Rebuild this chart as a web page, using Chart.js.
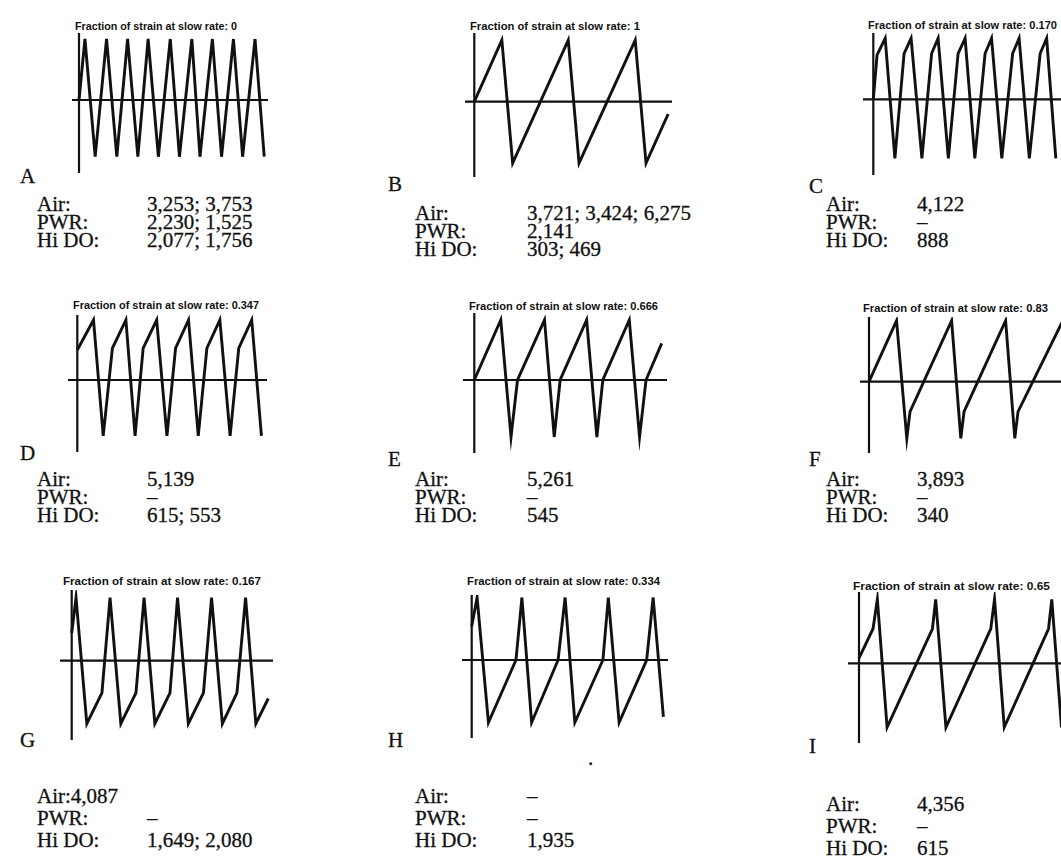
<!DOCTYPE html>
<html><head><meta charset="utf-8">
<script src="https://cdn.jsdelivr.net/npm/chart.js@4/dist/chart.umd.min.js"></script>
<style>
html,body{margin:0;padding:0;background:#fff;overflow:hidden;width:1061px;height:862px;}
#root{position:relative;width:1061px;height:862px;overflow:hidden;}
canvas{position:absolute;}
.t{position:absolute;white-space:nowrap;color:#111;}
.title{font:bold 10px "Liberation Sans",Arial,sans-serif;line-height:10px;transform-origin:0 0;}
.lab{font:21px "Liberation Serif","Times New Roman",serif;line-height:21px;-webkit-text-stroke:0.3px #111;}
</style></head><body><div id="root"></div>
<script>
// ---- data ----
const panelLetters = ['A','B','C','D','E','F','G','H','I'];
const slowFractions = ['0','1','0.170','0.347','0.666','0.83','0.167','0.334','0.65'];
const airLife  = ['3,253; 3,753','3,721; 3,424; 6,275','4,122','5,139','5,261','3,893','4,087','\u2013','4,356'];
const pwrLife  = ['2,230; 1,525','2,141','\u2013','\u2013','\u2013','\u2013','\u2013','\u2013','\u2013'];
const hiDoLife = ['2,077; 1,756','303; 469','888','615; 553','545','340','1,649; 2,080','1,935','615'];

// waveforms: time (arbitrary units) and normalised strain
const timeA = [0,1.1,3.0,5.1,7.0,9.0,10.9,12.8,14.7,16.9,18.6,20.9,22.4,24.7,26.4,28.6,30.3,32.6,34.3];
const strainA = [0,1,-0.93,1,-0.93,1,-0.93,1,-0.93,1,-0.93,1,-0.93,1,-0.93,1,-0.93,1,-0.93];
const timeB = [0,5.1,7.1,17.4,19.4,29.8,31.8,35.9];
const strainB = [0,1,-1,1,-1,1,-1,-0.2];
const timeC = [0,0.7,2.2,4.0,5.7,7.0,9.0,10.8,12.0,13.9,15.7,17.0,18.8,20.7,21.9,23.8,25.8,27.0,28.9,30.9,32.1,33.8];
const strainC = [0,0.73,1,-0.97,0.75,1,-0.97,0.75,1,-0.97,0.75,1,-0.97,0.75,1,-0.97,0.75,1,-0.97,0.75,1,-0.97];
const timeD = [0,3.0,4.8,6.5,9.0,10.7,12.2,14.7,16.6,18.2,20.6,22.4,24.0,26.4,28.3,29.9,32.3,34.1];
const strainD = [0.5,1,-0.93,0.53,1,-0.93,0.53,1,-0.93,0.53,1,-0.93,0.53,1,-0.93,0.53,1,-0.93];
const timeE = [0,4.9,6.8,8.0,13.0,14.8,15.9,20.8,22.7,23.8,28.7,30.6,31.8,34.7];
const strainE = [0,1,-0.95,0,1,-0.95,0,1,-0.95,0,1,-0.95,0,0.61];
const timeF = [0,5.1,7.0,7.6,15.3,17.0,17.6,25.3,27.0,27.6,35.9];
const strainF = [0,1,-0.93,-0.49,1,-0.93,-0.49,1,-0.93,-0.49,1];
const timeG = [0,0.8,2.8,5.6,7.1,9.1,11.9,13.4,15.4,18.2,19.6,21.6,24.4,25.9,27.9,30.6,32.2,34.1,36.4];
const strainG = [0.44,1,-1,-0.51,1,-1,-0.51,1,-1,-0.51,1,-1,-0.51,1,-1,-0.51,1,-1,-0.6];
const timeH = [0,1.0,3.1,8.2,9.3,11.1,16.0,17.3,19.1,24.3,25.3,27.3,32.4,33.6,35.5];
const strainH = [0.54,1,-1,0,1,-1,0,1,-1,0,1,-1,0,1,-0.91];
const timeI = [0,2.6,3.4,5.2,13.6,14.2,16.1,24.4,25.1,26.9,35.1,35.7,37.5];
const strainI = [0.08,0.54,1,-1,0.54,1,-1,0.54,1,-1,0.54,1,-1];

const times = [timeA,timeB,timeC,timeD,timeE,timeF,timeG,timeH,timeI];
const strains = [strainA,strainB,strainC,strainD,strainE,strainF,strainG,strainH,strainI];

// ---- layout (pixels) ----
const PPX = 5.4;
const plotBox = [
  {ax:79,   zy:100,   ppy:61,   top:33,  bottom:173, left:72,  right:268},
  {ax:474.3,zy:101.7, ppy:61.5, top:33,  bottom:177, left:465, right:672},
  {ax:873.3,zy:99.3,  ppy:61,   top:33,  bottom:175, left:863, right:1075},
  {ax:77.3, zy:380,   ppy:60,   top:315, bottom:452, left:68,  right:267},
  {ax:474.3,zy:380,   ppy:60,   top:313, bottom:453, left:463, right:667},
  {ax:869,  zy:381.7, ppy:61,   top:317, bottom:453, left:860, right:1075},
  {ax:71.7, zy:660.7, ppy:63,   top:590, bottom:740, left:60,  right:273},
  {ax:471.7,zy:660,   ppy:62.5, top:595, bottom:738, left:462, right:668},
  {ax:859,  zy:663.3, ppy:64,   top:592, bottom:743, left:848, right:1075}
];
const titleBox = [
  {x:75,y:22,w:162},{x:470,y:22,w:170},{x:868,y:21,w:189},
  {x:73,y:301,w:186},{x:469,y:302,w:189},{x:863,y:304,w:185},
  {x:63,y:577,w:198},{x:467,y:577,w:193},{x:853,y:582,w:197}
];
const letterBox = [
  {x:20,y:170},{x:388,y:178},{x:809,y:180},
  {x:20,y:447},{x:388,y:453},{x:809,y:453},
  {x:20,y:734},{x:388,y:734},{x:809,y:740}
];
const rowBox = [
  {lx:37,vx:147,b:[212,230,248]},{lx:415,vx:527,b:[221,239,257]},{lx:826,vx:917,b:[212,230,248]},
  {lx:37,vx:147,b:[487,505,523]},{lx:415,vx:527,b:[487,505,523]},{lx:826,vx:917,b:[487,505,523]},
  {lx:37,vx:147,b:[804,826,848],inlineAir:true},{lx:415,vx:527,b:[804,826,848]},{lx:826,vx:917,b:[812,834,856]}
];

const root = document.getElementById('root');
function addText(txt, cls, x, y){
  const d = document.createElement('div');
  d.className = 't ' + cls; d.textContent = txt;
  d.style.left = x + 'px'; d.style.top = y + 'px';
  root.appendChild(d); return d;
}

const axesPlugin = {
  id:'zeroAxes',
  beforeDatasetsDraw(chart){
    const {ctx, chartArea:a, scales:{x,y}} = chart;
    const x0 = x.getPixelForValue(0), y0 = y.getPixelForValue(0);
    ctx.save();
    ctx.strokeStyle = '#111'; ctx.lineWidth = 2.2;
    ctx.beginPath();
    ctx.moveTo(x0, a.top); ctx.lineTo(x0, a.bottom);
    ctx.moveTo(a.left, y0); ctx.lineTo(a.right, y0);
    ctx.stroke(); ctx.restore();
  }
};

for (let i = 0; i < 9; i++) {
  const L = plotBox[i];
  const left = Math.round(L.left), right = Math.round(L.right);
  const top = Math.round(L.top), bottom = Math.round(L.bottom);
  const cv = document.createElement('canvas');
  cv.width = right - left; cv.height = bottom - top;
  cv.style.left = left + 'px'; cv.style.top = top + 'px';
  cv.style.width = (right-left) + 'px'; cv.style.height = (bottom-top) + 'px';
  root.appendChild(cv);
  const pts = times[i].map((t, k) => ({x:t, y:strains[i][k]}));
  new Chart(cv, {
    type:'line',
    data:{datasets:[{data:pts, borderColor:'#111', borderWidth:2.9, pointRadius:0, tension:0, fill:false, clip:false, borderJoinStyle:'miter'}]},
    options:{
      responsive:false, animation:false, devicePixelRatio:1,
      layout:{padding:0},
      plugins:{legend:{display:false}, tooltip:{enabled:false}, title:{display:false}},
      scales:{
        x:{type:'linear', display:false, min:(left-L.ax)/PPX, max:(right-L.ax)/PPX},
        y:{type:'linear', display:false, min:(L.zy-bottom)/L.ppy, max:(L.zy-top)/L.ppy}
      }
    },
    plugins:[axesPlugin]
  });

  // title
  const tb = titleBox[i];
  const td = addText('Fraction of strain at slow rate: ' + slowFractions[i], 'title', tb.x, tb.y);
  const w = td.getBoundingClientRect().width;
  td.style.transform = 'scaleX(' + (tb.w / w) + ')';

  // panel letter
  addText(panelLetters[i], 'lab', letterBox[i].x, letterBox[i].y - 4);

  // rows
  const R = rowBox[i];
  const labels = ['Air:', 'PWR:', 'Hi DO:'];
  const vals = [airLife[i], pwrLife[i], hiDoLife[i]];
  for (let r = 0; r < 3; r++) {
    const ty = R.b[r] - 17.6;
    if (r === 0 && R.inlineAir) {
      addText(labels[r] + vals[r], 'lab', R.lx, ty);
    } else {
      addText(labels[r], 'lab', R.lx, ty);
      addText(vals[r], 'lab', R.vx, ty);
    }
  }
}
// small speck printed below panel H
addText('.', 'lab', 588, 748);
</script></body></html>
